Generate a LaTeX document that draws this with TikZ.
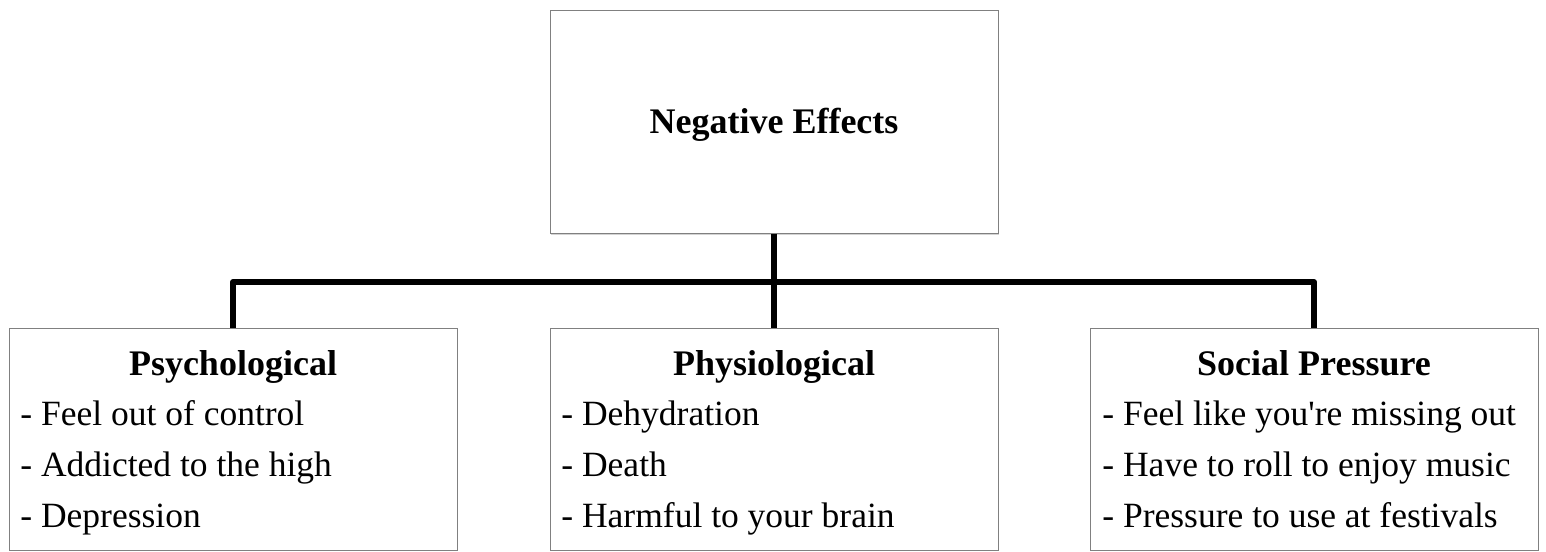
\documentclass[tikz,border=0pt]{standalone}
\usepackage{fontspec}
\setmainfont{Liberation Serif}
\usetikzlibrary{shadows}

\begin{document}
\begin{tikzpicture}[x=1pt, y=-1pt, thick,
  box/.style = {draw=black!50, line width=1pt, fill=white, minimum width=448pt, minimum height=222pt, inner sep=0pt},
  conn/.style = {draw, line width=6pt, line join=round},
  head/.style = {font=\fontsize{36}{42}\selectfont\bfseries, anchor=base, inner sep=0pt},
  item/.style = {font=\fontsize{35.5}{42}\selectfont, anchor=base west, inner sep=0pt}]
  \useasboundingbox (0,0) rectangle (1546,551);
  % boxes
  \node[box, drop shadow={shadow xshift=1pt, shadow yshift=-2pt, opacity=0.35}] (neg) at (774,122) {};
  \node[box] (psy) at (233,439) {};
  \node[box] (phy) at (774,439) {};
  \node[box] (soc) at (1314,439) {};
  \coordinate (bar) at (774,282);
  % connectors
  \draw[conn] (neg.south) -- (phy.north);
  \draw[conn] (psy.north) |- (bar) -| (soc.north);
  % texts
  \node[head] (negtxt) at (774,133) {Negative Effects};
  \node[head] (psyhead) at (233,375) {Psychological};
  \node[item] (psy1) at (20,425) {- Feel out of control};
  \node[item] (psy2) at (20,476) {- Addicted to the high};
  \node[item] (psy3) at (20,527) {- Depression};
  \node[head] (phyhead) at (774,375) {Physiological};
  \node[item] (phy1) at (561,425) {- Dehydration};
  \node[item] (phy2) at (561,476) {- Death};
  \node[item] (phy3) at (561,527) {- Harmful to your brain};
  \node[head] (sochead) at (1314,375) {Social Pressure};
  \node[item] (soc1) at (1102,425) {- Feel like you\textquotesingle re missing out};
  \node[item] (soc2) at (1102,476) {- Have to roll to enjoy music};
  \node[item] (soc3) at (1102,527) {- Pressure to use at festivals};
\end{tikzpicture}
\end{document}
